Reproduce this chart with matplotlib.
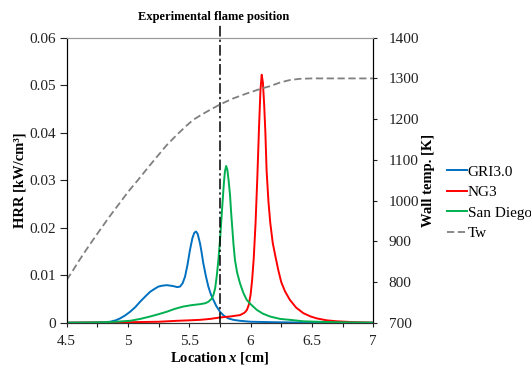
import matplotlib
matplotlib.use("Agg")
import matplotlib.pyplot as plt
from matplotlib.ticker import MultipleLocator

plt.rcParams['font.family'] = ['Liberation Serif', 'DejaVu Serif']
plt.rcParams['mathtext.fontset'] = 'custom'
plt.rcParams['mathtext.rm'] = 'Liberation Serif:bold'
plt.rcParams['mathtext.it'] = 'Liberation Serif:italic:bold'
plt.rcParams['mathtext.bf'] = 'Liberation Serif:bold'

# ---- data ----
gri_x = [4.5, 4.7, 4.8, 4.854, 4.9, 4.935, 4.975, 5.017, 5.06, 5.098, 5.14, 5.18, 5.215, 5.247,
         5.28, 5.315, 5.345, 5.37, 5.40, 5.424, 5.445, 5.465, 5.485, 5.505, 5.525, 5.54, 5.554,
         5.568, 5.587, 5.60, 5.614, 5.635, 5.655, 5.675, 5.696, 5.72, 5.75, 5.78, 5.818, 5.86,
         5.913, 6.0, 6.2, 6.5, 7.0]
gri_y = [0.0, 0.00003, 0.0001, 0.0002, 0.0005, 0.0009, 0.0015, 0.0023, 0.0033, 0.0044, 0.0055,
         0.0065, 0.0071, 0.0076, 0.0078, 0.0079, 0.0078, 0.0077, 0.0075, 0.0076, 0.0083, 0.0097,
         0.0122, 0.0153, 0.0178, 0.0189, 0.0192, 0.0187, 0.0167, 0.0148, 0.0125, 0.0098, 0.0076,
         0.0060, 0.0048, 0.0035, 0.0023, 0.0015, 0.0009, 0.0006, 0.0004, 0.0002, 0.0001, 0.0, 0.0]

ng3_x = [4.5, 4.8, 5.0, 5.25, 5.4, 5.5, 5.587, 5.67, 5.75, 5.83, 5.913, 5.95, 5.97, 5.985, 6.0,
         6.012, 6.025, 6.04, 6.055, 6.068, 6.08, 6.09, 6.1, 6.11, 6.12, 6.13, 6.145, 6.16, 6.18,
         6.2, 6.225, 6.25, 6.28, 6.32, 6.37, 6.43, 6.49, 6.54, 6.62, 6.7, 6.85, 7.0]
ng3_y = [0.0, 0.00005, 0.0001, 0.0002, 0.0004, 0.0005, 0.0006, 0.0008, 0.0011, 0.0013, 0.0016,
         0.0021, 0.0027, 0.0038, 0.006, 0.009, 0.0135, 0.021, 0.031, 0.041, 0.049, 0.0522, 0.0505,
         0.046, 0.040, 0.032, 0.0255, 0.021, 0.0168, 0.0142, 0.0111, 0.0085, 0.0066, 0.0048,
         0.0032, 0.002, 0.0013, 0.0009, 0.0005, 0.0003, 0.0001, 0.0]

sd_x = [4.5, 4.7, 4.8, 4.9, 5.017, 5.1, 5.18, 5.25, 5.315, 5.38, 5.45, 5.52, 5.587, 5.63, 5.655,
        5.68, 5.696, 5.71, 5.723, 5.737, 5.75, 5.762, 5.772, 5.782, 5.79, 5.80, 5.81, 5.82, 5.832,
        5.84, 5.85, 5.86, 5.872, 5.89, 5.913, 5.94, 5.968, 6.0, 6.05, 6.1, 6.158, 6.24, 6.32,
        6.43, 6.54, 6.7, 7.0]
sd_y = [0.0, 0.00005, 0.0001, 0.0002, 0.0004, 0.0008, 0.0013, 0.0018, 0.0023, 0.0029, 0.0034,
        0.0037, 0.0039, 0.0041, 0.0044, 0.0050, 0.0058, 0.0072, 0.0097, 0.0132, 0.0174, 0.022,
        0.0258, 0.0295, 0.0318, 0.033, 0.0322, 0.030, 0.0268, 0.0235, 0.0200, 0.0165, 0.0132,
        0.0105, 0.0083, 0.0063, 0.0048, 0.0039, 0.0027, 0.0019, 0.0013, 0.0008, 0.0006, 0.0003,
        0.0002, 0.0001, 0.0]

tw_x = [4.5, 4.55, 4.6, 4.65, 4.7, 4.772, 4.85, 4.93, 5.002, 5.08, 5.16, 5.24, 5.315, 5.4, 5.47,
        5.53, 5.6, 5.67, 5.75, 5.85, 5.968, 6.077, 6.158, 6.24, 6.32, 6.4, 6.5, 7.0]
tw_y = [805, 828, 852, 875, 897, 928, 961, 993, 1022, 1050, 1080, 1109, 1136, 1162, 1182, 1198,
        1211, 1223, 1236, 1250, 1263, 1274, 1281, 1290, 1296, 1299, 1300, 1300]

flame_pos = 5.75

x_ticks = [4.5, 5, 5.5, 6, 6.5, 7]
x_tick_labels = ['4.5', '5', '5.5', '6', '6.5', '7']
hrr_ticks = [0, 0.01, 0.02, 0.03, 0.04, 0.05, 0.06]
hrr_tick_labels = ['0', '0.01', '0.02', '0.03', '0.04', '0.05', '0.06']
tw_ticks = [700, 800, 900, 1000, 1100, 1200, 1300, 1400]

fig = plt.figure(figsize=(5.31, 3.66), dpi=100)
ax = fig.add_axes([66.7/531, 1-322.7/366, (373.3-66.7)/531, (322.7-37.7)/366])
ax2 = ax.twinx()

l1, = ax.plot(gri_x, gri_y, color='#0070C0', lw=1.4, label='GRI3.0', zorder=3)
l2, = ax.plot(ng3_x, ng3_y, color='#FF0000', lw=1.4, label='NG3', zorder=3)
l3, = ax.plot(sd_x, sd_y, color='#00B050', lw=1.4, label='San Diego', zorder=4)
l4, = ax2.plot(tw_x, tw_y, color='#808080', lw=1.3, ls=(0, (4, 2)), label='Tw')

ax.axvline(flame_pos, ymin=0, ymax=1.045, color='black', lw=1.1,
           ls=(0, (7, 2, 1.5, 2)), clip_on=False, zorder=5)
ax.text(5.70, 0.0643, 'Experimental flame position', ha='center', va='center',
        fontsize=9, fontweight='bold')

ax.set_xlim(4.5, 7)
ax.set_ylim(0, 0.06)
ax2.set_ylim(700, 1400)

ax.set_xticks(x_ticks)
ax.set_xticklabels(x_tick_labels)
ax.xaxis.set_minor_locator(MultipleLocator(0.25))
ax.set_yticks(hrr_ticks)
ax.set_yticklabels(hrr_tick_labels)
ax2.set_yticks(tw_ticks)

ax.tick_params(axis='x', which='both', direction='out', length=3, width=0.8, labelsize=11, pad=6, colors='#222222')
ax.tick_params(axis='y', direction='out', length=5, width=0.8, labelsize=11, pad=3, colors='#222222')
ax2.tick_params(axis='y', direction='out', length=3, width=0.8, labelsize=11, pad=8, colors='#222222')

for a in (ax, ax2):
    a.spines['top'].set_color('#9a9a9a')
    a.spines['top'].set_linewidth(0.8)
    a.spines['left'].set_color('black')
    a.spines['right'].set_color('black')
    a.spines['bottom'].set_color('#333333')

ax.set_xlabel(r'Location $\mathit{x}$ [cm]', fontsize=10.5, fontweight='bold', labelpad=1)
ax.set_ylabel('HRR [kW/cm³]', fontsize=10.5, fontweight='bold', labelpad=2)
ax2.set_ylabel('Wall temp. [K]', fontsize=10.5, fontweight='bold', labelpad=2)

fig.legend(handles=[l1, l2, l3, l4], loc='upper left', bbox_to_anchor=(447/531, 1-165/366),
           frameon=False, fontsize=11, handlelength=1.3, handletextpad=0.05,
           labelspacing=0.45, borderpad=0, borderaxespad=0)

fig.savefig('out.png', dpi=100)
